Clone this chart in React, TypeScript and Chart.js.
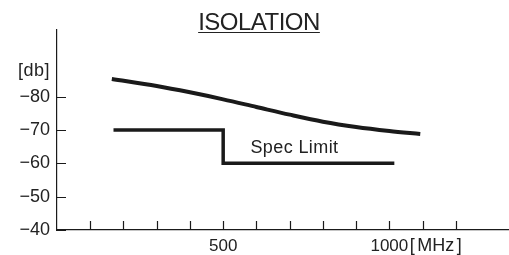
import React, { useEffect, useRef } from "react";
import { Chart, registerables } from "chart.js";

Chart.register(...registerables);

// Data
const isoFreq = [165, 300, 400, 500, 600, 700, 800, 900, 1000, 1093];
const isoDb = [-85.3, -83.2, -81.3, -79.2, -76.9, -74.6, -72.5, -70.9, -69.7, -68.8];
const specFreq = [170, 500, 500, 1015];
const specDb = [-70, -70, -60, -60];
const yTickValues = [-80, -70, -60, -50, -40];
const xTickValues = [100, 200, 300, 400, 500, 600, 700, 800, 900, 1000, 1100, 1200];
const xLabelValues = [500, 1000];
const titleText = "ISOLATION";
const yUnit = "[db]";
const xUnitParts = ["[", "MHz", "]"];
const specLabel = "Spec Limit";

const FONT = "'Liberation Sans', Arial, Helvetica, sans-serif";
const TEXT = "#222";
const INK = "#1a1a1a";

const decorPlugin = {
  id: "decor",
  afterDraw(chart: any) {
    const ctx = chart.ctx;
    const xs = chart.scales.x;
    const ys = chart.scales.y;
    const area = chart.chartArea;
    ctx.save();
    // tick marks (inward)
    ctx.strokeStyle = INK;
    ctx.lineWidth = 1.2;
    ctx.beginPath();
    xs.ticks.forEach((t: any) => {
      const px = Math.round(xs.getPixelForValue(t.value)) + 0.5;
      ctx.moveTo(px, area.bottom);
      ctx.lineTo(px, area.bottom - 9);
    });
    ys.ticks.forEach((t: any) => {
      const py = Math.round(ys.getPixelForValue(t.value)) + 0.5;
      ctx.moveTo(area.left, py);
      ctx.lineTo(area.left + 9, py);
    });
    ctx.stroke();

    // title with underline
    ctx.fillStyle = TEXT;
    ctx.font = `24px ${FONT}`;
    (ctx as any).letterSpacing = "-0.5px";
    ctx.textAlign = "left";
    ctx.textBaseline = "alphabetic";
    const tw = ctx.measureText(titleText).width;
    const tx = 259 - tw / 2;
    ctx.fillText(titleText, tx, 29.5);
    ctx.lineWidth = 1.2;
    ctx.strokeStyle = TEXT;
    ctx.beginPath();
    ctx.moveTo(tx, 32.5);
    ctx.lineTo(tx + tw, 32.5);
    ctx.stroke();

    // y unit
    (ctx as any).letterSpacing = "0.5px";
    ctx.font = `18px ${FONT}`;
    ctx.textAlign = "right";
    ctx.fillText(yUnit, area.left - 7, ys.getPixelForValue(-80) - 21);

    // x unit after 1000 label
    (ctx as any).letterSpacing = "0px";
    ctx.font = `17px ${FONT}`;
    const w1000 = ctx.measureText("1000").width;
    ctx.font = `18px ${FONT}`;
    ctx.textAlign = "left";
    let ux = xs.getPixelForValue(1000) + w1000 / 2 + 1.5;
    xUnitParts.forEach((p, i) => {
      ctx.fillText(p, ux, 251);
      ux += ctx.measureText(p).width + (i < xUnitParts.length - 1 ? 2.5 : 0);
    });

    // spec limit label
    (ctx as any).letterSpacing = "0.4px";
    ctx.font = `18px ${FONT}`;
    ctx.textAlign = "left";
    ctx.fillText(specLabel, xs.getPixelForValue(582), ys.getPixelForValue(-63.2));
    ctx.restore();
  },
};

export default function App() {
  const ref = useRef<HTMLCanvasElement | null>(null);
  useEffect(() => {
    if (!ref.current) return;
    const chart = new Chart(ref.current, {
      type: "line",
      data: {
        datasets: [
          {
            data: isoFreq.map((f, i) => ({ x: f, y: isoDb[i] })),
            borderColor: INK,
            borderWidth: 4,
            pointRadius: 0,
            cubicInterpolationMode: "monotone",
            fill: false,
          },
          {
            data: specFreq.map((f, i) => ({ x: f, y: specDb[i] })),
            borderColor: INK,
            borderWidth: 3.5,
            pointRadius: 0,
            tension: 0,
            fill: false,
            borderJoinStyle: "miter",
          },
        ],
      },
      options: {
        responsive: false,
        animation: false,
        layout: { padding: { top: 30, left: 0, right: 0, bottom: 0 } },
        plugins: {
          legend: { display: false },
          title: { display: false },
          tooltip: { enabled: false },
        },
        scales: {
          x: {
            type: "linear",
            min: 0,
            max: 1360,
            grid: { display: false, drawTicks: false },
            border: { display: true, color: INK, width: 1.2 },
            afterBuildTicks: (s: any) => {
              s.ticks = xTickValues.map((v) => ({ value: v }));
            },
            afterFit: (s: any) => {
              s.height = 25;
            },
            ticks: {
              autoSkip: false,
              maxRotation: 0,
              padding: 6,
              color: TEXT,
              font: { family: FONT, size: 17 },
              callback: (v: any) => (xLabelValues.includes(Number(v)) ? String(v) : ""),
            },
          },
          y: {
            type: "linear",
            min: -100,
            max: -40,
            reverse: true,
            grid: { display: false, drawTicks: false },
            border: { display: true, color: INK, width: 1.2 },
            afterBuildTicks: (s: any) => {
              s.ticks = yTickValues.map((v) => ({ value: v }));
            },
            afterFit: (s: any) => {
              s.width = 57;
            },
            ticks: {
              padding: 7,
              color: TEXT,
              font: { family: FONT, size: 18 },
              callback: (v: any) => "\u2212" + Math.abs(Number(v)),
            },
          },
        },
      },
      plugins: [decorPlugin],
    });
    return () => chart.destroy();
  }, []);
  return (
    <div style={{ position: "fixed", left: 0, top: 0, width: 509, height: 255, background: "#fff" }}>
      <canvas ref={ref} width={509} height={255} />
    </div>
  );
}
